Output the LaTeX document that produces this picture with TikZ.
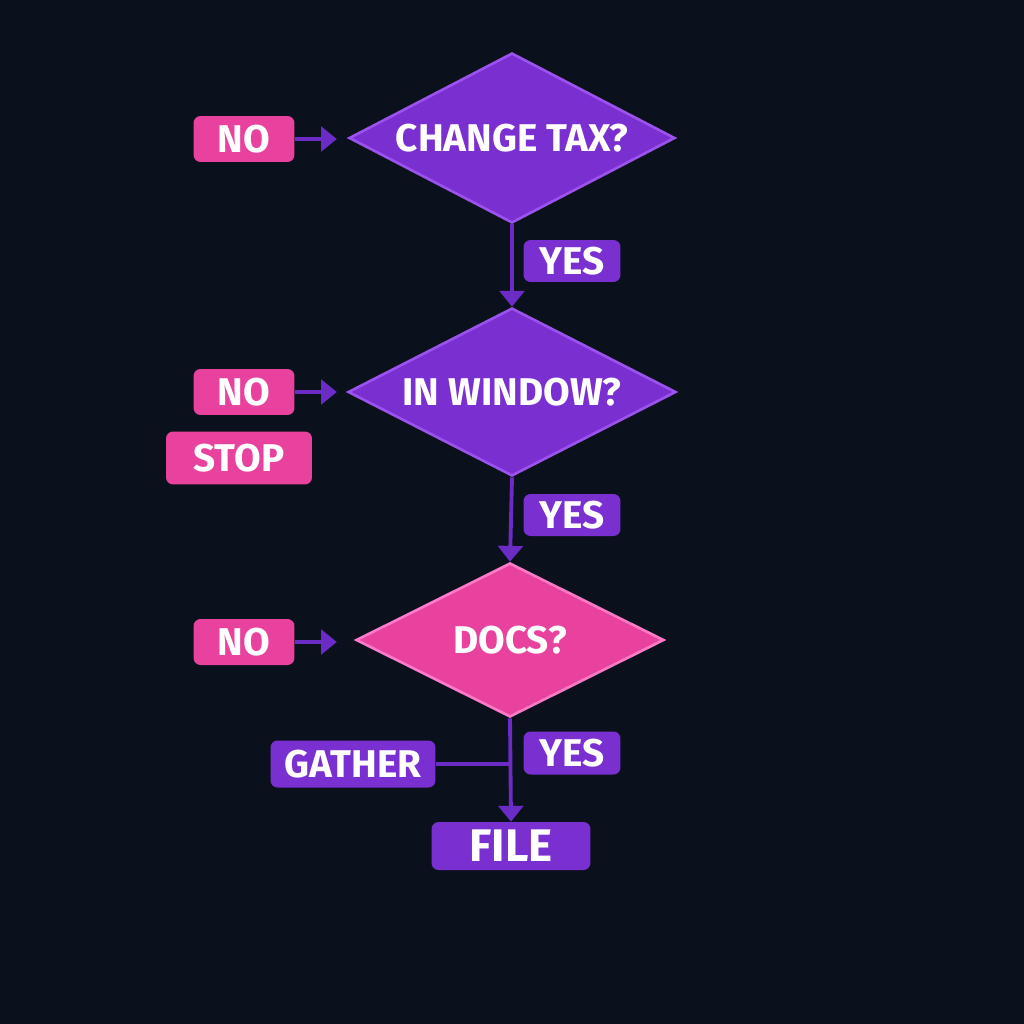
\documentclass[tikz,border=0pt]{standalone}
\usepackage{fontspec}
\setmainfont{Fira Sans}
\usetikzlibrary{shapes.geometric,arrows.meta}
\definecolor{bgdark}{HTML}{0B111C}
\definecolor{purp}{HTML}{7A2FD0}
\definecolor{purpline}{HTML}{9C52EC}
\definecolor{pinkc}{HTML}{E8429E}
\definecolor{pinkline}{HTML}{FF7AC8}
\definecolor{wire}{HTML}{6A2CC4}
\tikzset{
  q/.style={diamond,draw=purpline,line width=1.5pt,fill=purp,aspect=1.92,
    inner sep=0pt,font=\bfseries\fontsize{22}{22}\selectfont,text=white},
  tag/.style={rounded corners=4pt,fill=#1,font=\bfseries\fontsize{22}{22}\selectfont,
    text=white,inner sep=0pt},
  wire/.style={draw=wire,line width=2.2pt},
  flow/.style={wire,-{Triangle[length=9pt,width=14pt]}}
}
\begin{document}
\begin{tikzpicture}[x=0.02cm,y=-0.02cm]
\fill[bgdark] (0,0) rectangle (1024,1024);
\useasboundingbox (0,0) rectangle (1024,1024);
\path
    (512,138) node [q,minimum width=326\pgflinewidth*0+6.52cm,minimum height=3.4cm] (tax) {CHANGE TAX?}
    (512,392) node [q,minimum width=6.56cm,minimum height=3.36cm] (win) {IN WINDOW?}
    (510,640) node [q,fill=pinkc,draw=pinkline,minimum width=6.16cm,minimum height=3.08cm] (docs) {DOCS?};
\path
    (244,139) node [tag=pinkc,minimum width=2.02cm,minimum height=0.92cm] (no1) {NO}
    (244,392) node [tag=pinkc,minimum width=2.02cm,minimum height=0.92cm] (no2) {NO}
    (239,458) node [tag=pinkc,minimum width=2.92cm,minimum height=1.06cm] (stop) {STOP}
    (244,642) node [tag=pinkc,minimum width=2.02cm,minimum height=0.92cm] (no3) {NO}
    (572,261) node [tag=purp,minimum width=1.94cm,minimum height=0.84cm] (yes1) {YES}
    (572,515) node [tag=purp,minimum width=1.94cm,minimum height=0.84cm] (yes2) {YES}
    (572,753) node [tag=purp,minimum width=1.94cm,minimum height=0.86cm] (yes3) {YES}
    (353,764) node [tag=purp,minimum width=3.3cm,minimum height=0.94cm] (gather) {GATHER}
    (511,846) node [tag=purp,minimum width=3.18cm,minimum height=0.96cm,
      font=\bfseries\fontsize{26}{26}\selectfont] (file) {FILE};
\coordinate (join) at (512,764);
\draw [flow] (no1.east) -- +(42,0);
\draw [flow] (no2.east) -- +(42,0);
\draw [flow] (no3.east) -- +(42,0);
\draw [flow] (tax.south) -- (win.north);
\draw [flow] (win.south) -- (docs.north);
\draw [flow] (docs.south) -- (file.north);
\draw [wire] (gather.east) -- (join);
\end{tikzpicture}
\end{document}
